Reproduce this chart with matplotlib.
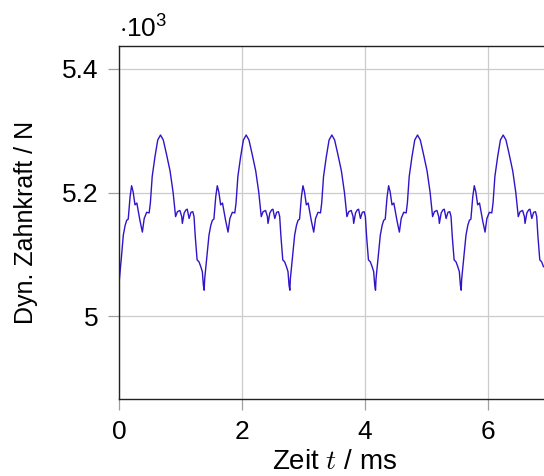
import numpy as np
import matplotlib.pyplot as plt

plt.rcParams['font.family'] = ['Liberation Sans', 'DejaVu Sans']
plt.rcParams['mathtext.fontset'] = 'cm'

# Dynamic tooth force (in 10^3 N), one list pair per mesh cycle
t1 = [0.000, 0.040, 0.070, 0.100, 0.125, 0.150, 0.180, 0.205, 0.230, 0.260,
      0.290, 0.310, 0.340, 0.380, 0.410, 0.450, 0.490, 0.510, 0.540, 0.585,
      0.630, 0.675, 0.720, 0.770, 0.830, 0.880, 0.920, 0.950, 0.990, 1.020,
      1.030, 1.060, 1.090, 1.110, 1.140, 1.170, 1.200, 1.220, 1.240, 1.270,
      1.300, 1.330, 1.355, 1.372, 1.385]
f1 = [5.053, 5.096, 5.131, 5.147, 5.155, 5.157, 5.193, 5.211, 5.201, 5.180,
      5.183, 5.172, 5.155, 5.136, 5.158, 5.168, 5.167, 5.183, 5.226, 5.258,
      5.285, 5.293, 5.285, 5.263, 5.235, 5.200, 5.161, 5.169, 5.171, 5.161,
      5.150, 5.167, 5.172, 5.173, 5.158, 5.168, 5.169, 5.161, 5.129, 5.091,
      5.088, 5.080, 5.072, 5.050, 5.042]

t2 = [1.393, 1.433, 1.463, 1.493, 1.518, 1.543, 1.573, 1.598, 1.623, 1.653,
      1.683, 1.703, 1.733, 1.773, 1.803, 1.843, 1.883, 1.903, 1.933, 1.978,
      2.023, 2.068, 2.113, 2.163, 2.223, 2.273, 2.313, 2.343, 2.383, 2.413,
      2.423, 2.453, 2.483, 2.503, 2.533, 2.563, 2.593, 2.613, 2.633, 2.663,
      2.693, 2.723, 2.748, 2.765, 2.778]
f2 = [5.060, 5.100, 5.131, 5.147, 5.155, 5.157, 5.193, 5.211, 5.201, 5.180,
      5.183, 5.172, 5.155, 5.136, 5.158, 5.168, 5.167, 5.183, 5.226, 5.258,
      5.285, 5.293, 5.285, 5.263, 5.235, 5.200, 5.161, 5.169, 5.171, 5.161,
      5.150, 5.167, 5.172, 5.173, 5.158, 5.168, 5.169, 5.161, 5.129, 5.091,
      5.088, 5.080, 5.072, 5.050, 5.042]

t3 = [2.786, 2.826, 2.856, 2.886, 2.911, 2.936, 2.966, 2.991, 3.016, 3.046,
      3.076, 3.096, 3.126, 3.166, 3.196, 3.236, 3.276, 3.296, 3.326, 3.371,
      3.416, 3.461, 3.506, 3.556, 3.616, 3.666, 3.706, 3.736, 3.776, 3.806,
      3.816, 3.846, 3.876, 3.896, 3.926, 3.956, 3.986, 4.006, 4.026, 4.056,
      4.086, 4.116, 4.141, 4.158, 4.171]
f3 = [5.060, 5.100, 5.131, 5.147, 5.155, 5.157, 5.193, 5.211, 5.201, 5.180,
      5.183, 5.172, 5.155, 5.136, 5.158, 5.168, 5.167, 5.183, 5.226, 5.258,
      5.285, 5.293, 5.285, 5.263, 5.235, 5.200, 5.161, 5.169, 5.171, 5.161,
      5.150, 5.167, 5.172, 5.173, 5.158, 5.168, 5.169, 5.161, 5.129, 5.091,
      5.088, 5.080, 5.072, 5.050, 5.042]

t4 = [4.179, 4.219, 4.249, 4.279, 4.304, 4.329, 4.359, 4.384, 4.409, 4.439,
      4.469, 4.489, 4.519, 4.559, 4.589, 4.629, 4.669, 4.689, 4.719, 4.764,
      4.809, 4.854, 4.899, 4.949, 5.009, 5.059, 5.099, 5.129, 5.169, 5.199,
      5.209, 5.239, 5.269, 5.289, 5.319, 5.349, 5.379, 5.399, 5.419, 5.449,
      5.479, 5.509, 5.534, 5.551, 5.564]
f4 = [5.060, 5.100, 5.131, 5.147, 5.155, 5.157, 5.193, 5.211, 5.201, 5.180,
      5.183, 5.172, 5.155, 5.136, 5.158, 5.168, 5.167, 5.183, 5.226, 5.258,
      5.285, 5.293, 5.285, 5.263, 5.235, 5.200, 5.161, 5.169, 5.171, 5.161,
      5.150, 5.167, 5.172, 5.173, 5.158, 5.168, 5.169, 5.161, 5.129, 5.091,
      5.088, 5.080, 5.072, 5.050, 5.042]

t5 = [5.572, 5.612, 5.642, 5.672, 5.697, 5.722, 5.752, 5.777, 5.802, 5.832,
      5.862, 5.882, 5.912, 5.952, 5.982, 6.022, 6.062, 6.082, 6.112, 6.157,
      6.202, 6.247, 6.292, 6.342, 6.402, 6.452, 6.492, 6.522, 6.562, 6.592,
      6.602, 6.632, 6.662, 6.682, 6.712, 6.742, 6.772, 6.792, 6.812, 6.842,
      6.872, 6.902]
f5 = [5.060, 5.100, 5.131, 5.147, 5.155, 5.157, 5.193, 5.211, 5.201, 5.180,
      5.183, 5.172, 5.155, 5.136, 5.158, 5.168, 5.167, 5.183, 5.226, 5.258,
      5.285, 5.293, 5.285, 5.263, 5.235, 5.200, 5.161, 5.169, 5.171, 5.161,
      5.150, 5.167, 5.172, 5.173, 5.158, 5.168, 5.169, 5.161, 5.129, 5.091,
      5.088, 5.080]

x_ticks = [0, 2, 4, 6]
y_ticks = [5.0, 5.2, 5.4]
y_tick_labels = ['5', '5.2', '5.4']

t = np.concatenate([t1, t2, t3, t4, t5])
f = np.concatenate([f1, f2, f3, f4, f5])

fig = plt.figure(figsize=(5.44, 4.76), dpi=100)
# axes runs slightly past the right image border (cropped original)
ax = fig.add_axes([119/544, 77/476, 430.5/544, 353/476])

ax.plot(t, f, color='#3014c8', lw=1.0)

ax.set_xlim(0, 7)
ax.set_ylim(4.866, 5.437)
ax.set_xticks(x_ticks)
ax.set_yticks(y_ticks)
ax.set_yticklabels(y_tick_labels)

ax.grid(True, color='#cccccc', lw=0.9)
ax.set_axisbelow(True)
ax.tick_params(direction='out', length=8, width=0.9, color='#a0a0a0',
               labelsize=19, pad=7)
for s in ax.spines.values():
    s.set_color('#222222')
    s.set_linewidth(1.0)

ax.set_xlabel(r'Zeit $t$ / ms', fontsize=20, labelpad=4)
ax.set_ylabel('Dyn. Zahnkraft / N', fontsize=18, labelpad=17)
ax.annotate(r'$\cdot\mathregular{10^3}$', xy=(0, 1), xycoords='axes fraction',
            xytext=(0, 6), textcoords='offset points', ha='left', va='baseline',
            fontsize=19)

fig.savefig('out.png', dpi=100)
